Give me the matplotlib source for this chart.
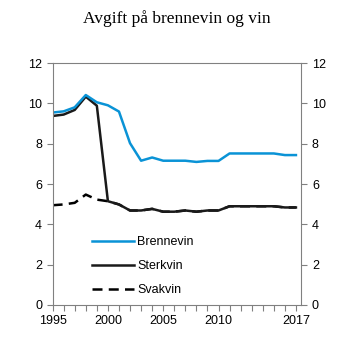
import matplotlib.pyplot as plt
from matplotlib.ticker import MultipleLocator

years = list(range(1995, 2018))
brennevin = [9.55, 9.61, 9.81, 10.42, 10.06, 9.91, 9.6, 8.03, 7.16, 7.32, 7.16,
             7.16, 7.16, 7.1, 7.15, 7.15, 7.52, 7.52, 7.52, 7.52, 7.52, 7.44, 7.44]
sterkvin = [9.38, 9.45, 9.68, 10.34, 9.89, 5.15, 4.99, 4.69, 4.69, 4.77, 4.63,
            4.63, 4.69, 4.63, 4.69, 4.69, 4.9, 4.9, 4.9, 4.9, 4.9, 4.84, 4.84]
svakvin = [4.95, 4.99, 5.07, 5.48, 5.23, 5.15, 4.99, 4.69, 4.69, 4.77, 4.63,
           4.63, 4.69, 4.63, 4.69, 4.69, 4.9, 4.9, 4.9, 4.9, 4.9, 4.84, 4.84]

plt.rcParams['font.family'] = ['Liberation Sans', 'DejaVu Sans']
fig = plt.figure(figsize=(3.53, 3.53), dpi=100)
ax = fig.add_axes([0.149, 0.136, 0.705, 0.685])

ax.plot(years, svakvin, color='black', lw=1.8, ls=(0, (4, 2.5)), label='Svakvin')
ax.plot(years, sterkvin, color='#1a1a1a', lw=1.8, label='Sterkvin')
ax.plot(years, brennevin, color='#0a93d6', lw=1.8, label='Brennevin')

ax.set_xlim(1995, 2017.5)
ax.set_ylim(0, 12)
ax.set_xticks([1995, 2000, 2005, 2010, 2017])
ax.xaxis.set_minor_locator(MultipleLocator(1))
ax.yaxis.set_major_locator(MultipleLocator(2))
ax.tick_params(axis='both', which='both', direction='out', color='#808080',
               labelsize=9, length=4, width=0.8)
ax.tick_params(axis='x', which='minor', length=4)
ax.tick_params(axis='y', right=True, labelright=True)
for s in ax.spines.values():
    s.set_color('#808080')
    s.set_linewidth(0.8)

h, l = ax.get_legend_handles_labels()
ax.legend(h[::-1], l[::-1], loc='lower left', bbox_to_anchor=(0.115, -0.01),
          frameon=False, fontsize=9, handlelength=3.3, handletextpad=0.3,
          labelspacing=0.95)

fig.text(0.5, 0.948, 'Avgift på brennevin og vin', ha='center', va='center',
         fontsize=12.5, family='Liberation Serif')

fig.savefig('out.png', dpi=100)
